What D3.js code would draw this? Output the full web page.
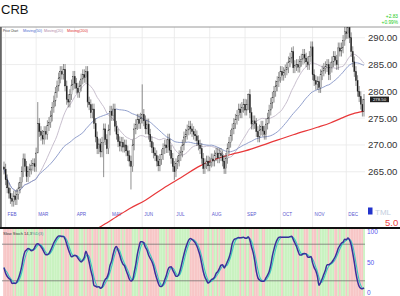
<!DOCTYPE html>
<html>
<head>
<meta charset="utf-8">
<script src="https://cdn.jsdelivr.net/npm/d3@7"></script>
<style>
body { margin: 0; background: #fff; }
svg { display: block; font-family: Arial, "Liberation Sans", sans-serif; }
</style>
</head>
<body>
<svg id="chart" width="400" height="296"></svg>
<script>
// daily closes (late Jan .. mid Dec)
const closes = [
  265.5, 263.5, 262.0, 261.0, 260.0, 259.5, 260.5, 259.8, 260.8, 262.0,
  263.0, 265.0, 267.4, 266.0, 264.1, 265.0, 265.5, 266.2, 266.5, 266.0,
  268.5, 274.0, 272.5, 271.8, 271.1, 272.5, 272.0, 273.6, 274.2, 275.4,
  277.0, 278.2, 279.8, 281.0, 282.5, 283.7, 283.2, 284.1, 281.0, 278.5,
  278.0, 279.4, 281.2, 282.8, 281.5, 280.6, 279.8, 281.0, 282.3, 283.1,
  282.6, 283.7, 278.0, 277.5, 276.0, 276.7, 274.0, 271.5, 269.3, 270.2,
  268.7, 270.5, 273.0, 271.0, 269.3, 272.8, 276.3, 275.5, 276.7, 273.5,
  272.0, 270.6, 269.8, 270.5, 269.6, 270.0, 268.9, 268.0, 267.0, 266.0,
  270.0, 273.0, 273.8, 274.8, 274.0, 275.0, 275.7, 274.5, 273.0, 273.9,
  272.0, 270.6, 269.5, 268.5, 268.0, 267.0, 266.1, 267.3, 268.2, 269.3,
  270.0, 269.5, 271.1, 269.0, 267.5, 266.0, 265.0, 266.5, 267.0, 268.0,
  268.7, 270.0, 271.5, 272.0, 272.8, 273.5, 273.0, 272.5, 272.0, 271.7,
  270.8, 270.0, 269.3, 267.5, 265.6, 266.5, 267.0, 266.1, 266.8, 267.4,
  267.0, 268.0, 268.5, 267.6, 268.4, 268.0, 267.0, 265.6, 267.5, 269.3,
  270.5, 271.8, 273.0, 274.0, 274.8, 275.5, 276.7, 276.0, 277.0, 277.6,
  276.5, 277.5, 279.4, 276.0, 273.9, 274.5, 274.0, 272.5, 271.5, 272.8,
  273.5, 272.6, 272.0, 273.9, 275.0, 276.5, 277.8, 278.9, 280.0, 281.0,
  281.8, 282.6, 283.7, 283.0, 283.5, 284.0, 284.4, 285.5, 286.2, 287.4,
  284.4, 284.8, 285.0, 284.5, 285.6, 286.0, 286.9, 286.2, 285.5, 285.0,
  286.5, 288.3, 283.1, 282.0, 281.3, 281.8, 280.7, 283.1, 283.8, 284.3,
  284.6, 285.0, 283.1, 284.5, 285.5, 286.5, 285.8, 285.0, 288.1, 287.5,
  288.1, 289.5, 291.1, 290.8, 291.9, 290.0, 287.4, 285.5, 283.7, 282.0,
  280.0, 279.0, 277.6, 276.3, 278.5
];

// notable wicks: day -> [high, low]
const wicks = {
  21: [278.0, 268.8],
  62: [null, 264.0],
  79: [null, 261.7],
  86: [281.3, null],
  106: [null, 263.5],
  152: [279.6, null],
  179: [288.2, null],
  214: [292.3, null]
};

// 200-day moving average: [day, value]
const ma200 = [
  [58, 254.4], [62, 255.1], [70, 256.6], [78, 258.1], [88, 259.7], [99, 261.9],
  [110, 263.9], [122, 266.1], [132, 267.4], [142, 268.3], [150, 268.9],
  [165, 270.4], [180, 271.9], [195, 273.3], [203, 274.1], [210, 275.0],
  [217, 275.8], [224, 276.3]
];

const monthNames = ['FEB', 'MAR', 'APR', 'MAY', 'JUN', 'JUL', 'AUG', 'SEP', 'OCT', 'NOV', 'DEC'];
const monthStarts = [1, 20, 44, 66, 86, 106, 128, 150, 172, 192, 213];
const priceTicks = [265, 270, 275, 280, 285, 290];
const stochTicks = [0, 50, 100];

const svg = d3.select('#chart');
const n = closes.length;

const x = d3.scaleLinear().domain([0, n - 1]).range([4, 364]);
const y = d3.scaleLinear().domain([254.7, 292]).range([227, 27]);
const ys = d3.scaleLinear().domain([0, 100]).range([293, 232]);
const step = x(1) - x(0);

const opens = closes.map((c, i) => i > 0 ? closes[i - 1] : c + 0.4);
const highs = closes.map((c, i) => (wicks[i] && wicks[i][0]) || Math.max(c, opens[i]) + 1.0);
const lows = closes.map((c, i) => (wicks[i] && wicks[i][1]) || Math.min(c, opens[i]) - 1.0);

function sma(arr, len) {
  return arr.map((v, i) => d3.mean(arr.slice(Math.max(0, i - len + 1), i + 1)));
}
const ma20 = sma(closes, 20);
const ma50 = sma(closes, 50);

// slow stochastic
const raw = closes.map((c, i) => {
  const s = Math.max(0, i - 13);
  const hh = d3.max(highs.slice(s, i + 1));
  const ll = d3.min(lows.slice(s, i + 1));
  return 100 * (c - ll) / (hh - ll);
});
const kLine = sma(raw, 5);
const dLine = sma(kLine, 3);

svg.append('rect').attr('width', 400).attr('height', 296).attr('fill', '#fff');

// title
svg.append('text').attr('x', 1).attr('y', 13.5).attr('font-size', 13).attr('fill', '#111').text('CRB');
svg.append('text').attr('x', 398).attr('y', 18).attr('font-size', 4.8).attr('fill', '#22cc22')
  .attr('text-anchor', 'end').text('+2.83');
svg.append('text').attr('x', 398).attr('y', 23.5).attr('font-size', 4.8).attr('fill', '#22cc22')
  .attr('text-anchor', 'end').text('+0.99%');

svg.append('defs').append('clipPath').attr('id', 'pclip')
  .append('rect').attr('x', 2).attr('y', 27).attr('width', 363).attr('height', 200);

// price grid
svg.append('g').selectAll('line').data(priceTicks).enter().append('line')
  .attr('x1', 2).attr('x2', 365).attr('y1', d => y(d)).attr('y2', d => y(d))
  .attr('stroke', '#e8e8e8').attr('stroke-width', 0.8);
svg.append('g').selectAll('line').data(monthStarts).enter().append('line')
  .attr('x1', d => x(d)).attr('x2', d => x(d)).attr('y1', 27).attr('y2', 227)
  .attr('stroke', '#e8e8e8').attr('stroke-width', 0.8);

// borders
svg.append('line').attr('x1', 0).attr('x2', 400).attr('y1', 27).attr('y2', 27)
  .attr('stroke', '#9a9a9a').attr('stroke-width', 1);
svg.append('rect').attr('x', 0).attr('y', 27).attr('width', 1.8).attr('height', 200).attr('fill', '#666');

// month labels
svg.append('g').selectAll('text').data(monthNames).enter().append('text')
  .attr('x', (d, i) => x(monthStarts[i]) + 2).attr('y', 215.5)
  .attr('font-size', 4.6).attr('fill', '#5a5acf').text(d => d);

const plot = svg.append('g').attr('clip-path', 'url(#pclip)');

// moving averages
const line = d3.line().x((d, i) => x(i)).y(d => y(d));
plot.append('path').datum(ma20).attr('d', line).attr('fill', 'none')
  .attr('stroke', '#c2b8c8').attr('stroke-width', 0.9);
plot.append('path').datum(ma50).attr('d', line).attr('fill', 'none')
  .attr('stroke', '#8494c6').attr('stroke-width', 0.9);
plot.append('path').datum(ma200)
  .attr('d', d3.line().x(d => x(d[0])).y(d => y(d[1])).curve(d3.curveMonotoneX))
  .attr('fill', 'none').attr('stroke', '#e8383a').attr('stroke-width', 1.2);

// candles
const candles = plot.append('g').selectAll('g').data(closes).enter().append('g');
candles.append('line')
  .attr('x1', (d, i) => x(i)).attr('x2', (d, i) => x(i))
  .attr('y1', (d, i) => y(highs[i])).attr('y2', (d, i) => y(lows[i]))
  .attr('stroke', '#222').attr('stroke-width', 0.5);
candles.append('rect')
  .attr('x', (d, i) => x(i) - 0.55).attr('width', 1.1)
  .attr('y', (d, i) => y(Math.max(d, opens[i])))
  .attr('height', (d, i) => Math.max(0.6, Math.abs(y(d) - y(opens[i]))))
  .attr('fill', (d, i) => d >= opens[i] ? '#fff' : '#111')
  .attr('stroke', '#333').attr('stroke-width', 0.35);

// legend
const legend = [['Price Chart', '#333', 3, 15], ['Moving(50)', '#4a6ad0', 23, 19], ['Moving(20)', '#b08aa8', 44, 19], ['Moving(200)', '#e03030', 67, 21]];
svg.append('g').selectAll('text').data(legend).enter().append('text')
  .attr('x', d => d[2]).attr('y', 31.5).attr('font-size', 3.9).attr('fill', d => d[1])
  .attr('textLength', d => d[3]).attr('lengthAdjust', 'spacingAndGlyphs').text(d => d[0]);

// right price axis
svg.append('g').selectAll('text').data(priceTicks).enter().append('text')
  .attr('x', 368).attr('y', d => y(d) + 3.5).attr('font-size', 9.6).attr('fill', '#333')
  .text(d => d3.format('.2f')(d));

const last = closes[n - 1];
svg.append('rect').attr('x', 370).attr('y', y(last) - 2.8).attr('width', 19).attr('height', 5.6).attr('fill', '#222');
svg.append('text').attr('x', 379.5).attr('y', y(last) + 1.6).attr('font-size', 4.3).attr('fill', '#fff')
  .attr('text-anchor', 'middle').text(d3.format('.2f')(last));

// watermark bits
svg.append('rect').attr('x', 368).attr('y', 207.5).attr('width', 4.5).attr('height', 7).attr('fill', '#2233cc');
svg.append('text').attr('x', 375).attr('y', 214.5).attr('font-size', 8).attr('fill', '#c4cede').text('TML');
svg.append('text').attr('x', 385).attr('y', 225.5).attr('font-size', 9.5).attr('fill', '#ee4444').text('5.0');

// stochastic panel
svg.append('g').selectAll('rect').data(closes).enter().append('rect')
  .attr('x', (d, i) => x(i) - step / 2).attr('width', step + 0.1)
  .attr('y', 229).attr('height', 67)
  .attr('fill', (d, i) => d >= opens[i] ? '#c9f2c0' : '#f7c6c6');

svg.append('line').attr('x1', 0).attr('x2', 400).attr('y1', 228).attr('y2', 228)
  .attr('stroke', '#111').attr('stroke-width', 2);

svg.append('g').selectAll('line').data([20, 80]).enter().append('line')
  .attr('x1', 2).attr('x2', 365).attr('y1', d => ys(d)).attr('y2', d => ys(d))
  .attr('stroke', '#666').attr('stroke-width', 0.7);

const sline = d3.line().x((d, i) => x(i)).y(d => ys(d)).curve(d3.curveMonotoneX);
svg.append('path').datum(dLine).attr('d', sline).attr('fill', 'none')
  .attr('stroke', '#3cc8c0').attr('stroke-width', 1.1);
svg.append('path').datum(kLine).attr('d', sline).attr('fill', 'none')
  .attr('stroke', '#3a2f9a').attr('stroke-width', 1.5);

svg.append('text').attr('x', 3).attr('y', 234.5).attr('font-size', 4).attr('fill', '#333').text('Slow Stoch 14,3');
svg.append('text').attr('x', 32).attr('y', 234.5).attr('font-size', 4).attr('fill', '#3a9a8a').text('%D(3)');

svg.append('g').selectAll('text').data(stochTicks).enter().append('text')
  .attr('x', 367).attr('y', d => ys(d) + 2.2).attr('font-size', 6.5).attr('fill', '#5555ee')
  .text(d => d);
</script>
</body>
</html>
